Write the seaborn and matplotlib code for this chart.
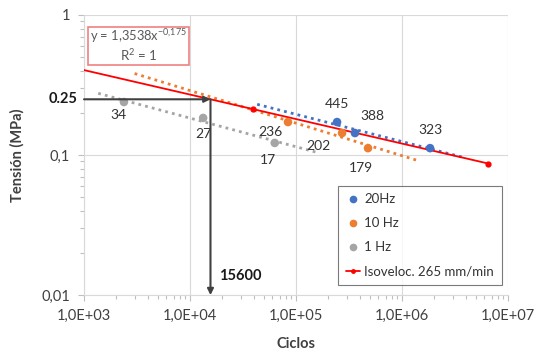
import numpy as np
import pandas as pd
import matplotlib
matplotlib.use("Agg")
import matplotlib.pyplot as plt
import matplotlib.ticker as mticker
from matplotlib.lines import Line2D
from matplotlib.patches import Rectangle
import seaborn as sns

# Fatigue tests: cycles to failure and stress per loading frequency
cycles_20hz = [2.44e5, 3.60e5, 1.84e6]
stress_20hz = [0.172, 0.1436, 0.112]
labels_20hz = ["445", "388", "323"]

cycles_10hz = [8.4e4, 2.72e5, 4.78e5]
stress_10hz = [0.172, 0.1436, 0.112]
labels_10hz = ["236", "202", "179"]

cycles_1hz = [2.38e3, 1.33e4, 6.3e4]
stress_1hz = [0.239, 0.184, 0.122]
labels_1hz = ["34", "27", "17"]

# Iso-velocity curve y = 1,3538 x^-0,175
iso_cycles = [1.0e3, 3.9e4, 6.5e6]
iso_stress = [0.404, 0.213, 0.087]

# Reference reading on the iso-velocity curve
ref_stress = 0.25
ref_cycles = 15600

series_names = ["20Hz", "10 Hz", "1 Hz"]
colors = {"20Hz": "#4472C4", "10 Hz": "#ED7D31", "1 Hz": "#A5A5A5"}
trend_ranges = {"20Hz": (4.3e4, 3.7e6), "10 Hz": (3.0e3, 1.42e6), "1 Hz": (1.36e3, 1.61e5)}

df = pd.DataFrame({
    "Ciclos": cycles_20hz + cycles_10hz + cycles_1hz,
    "Tension": stress_20hz + stress_10hz + stress_1hz,
    "Serie": ["20Hz"] * 3 + ["10 Hz"] * 3 + ["1 Hz"] * 3,
    "Etiqueta": labels_20hz + labels_10hz + labels_1hz,
})

sns.set_theme(style="white")
plt.rcParams["font.family"] = ["Lato", "DejaVu Sans"]
plt.rcParams["mathtext.fontset"] = "custom"
plt.rcParams["mathtext.rm"] = "Lato"
plt.rcParams["mathtext.default"] = "regular"

fig = plt.figure(figsize=(5.4, 3.56), dpi=100)
ax = fig.add_axes([0.1556, 0.171, 0.7851, 0.787])
ax.set_xscale("log")
ax.set_yscale("log")
ax.set_xlim(1e3, 1e7)
ax.set_ylim(0.01, 1)

# Power-law trend lines fitted to each frequency series
for name in series_names:
    sub = df[df["Serie"] == name]
    b, a = np.polyfit(np.log10(sub["Ciclos"]), np.log10(sub["Tension"]), 1)
    lo, hi = trend_ranges[name]
    xs = np.logspace(np.log10(lo), np.log10(hi), 50)
    ax.plot(xs, 10 ** a * xs ** b, ls=(0, (1, 1.5)), lw=2.0, color=colors[name], zorder=2)

ax.plot(iso_cycles, iso_stress, color="#FF0000", lw=1.3, marker="o", ms=3.5,
        markevery=[1, 2], zorder=3)

sns.scatterplot(data=df, x="Ciclos", y="Tension", hue="Serie", palette=colors,
                s=38, edgecolor="none", ax=ax, legend=False, zorder=4)

# Value labels next to each point
offsets = {
    "445": (0, 9, "center", "bottom"), "388": (4, 8, "left", "bottom"),
    "323": (0, 9, "center", "bottom"),
    "236": (-4, -3, "right", "top"), "202": (-8, -5, "right", "top"),
    "179": (-5, -10, "center", "top"),
    "34": (-4, -5, "center", "top"), "27": (0, -7, "center", "top"),
    "17": (-5, -8, "center", "top"),
}
for _, r in df.iterrows():
    dx, dy, ha, va = offsets[r["Etiqueta"]]
    ax.annotate(r["Etiqueta"], (r["Ciclos"], r["Tension"]), xytext=(dx, dy),
                textcoords="offset points", ha=ha, va=va, fontsize=10,
                color="#333333", zorder=5)

# Reading arrows: 0.25 MPa -> 15600 cycles
ax.annotate("", xy=(ref_cycles, ref_stress), xytext=(1e3, ref_stress),
            arrowprops=dict(arrowstyle="-|>", color="#404040", lw=1.5,
                            mutation_scale=9, shrinkA=0, shrinkB=0), zorder=6)
ax.annotate("", xy=(ref_cycles, 0.01), xytext=(ref_cycles, ref_stress),
            arrowprops=dict(arrowstyle="-|>", color="#404040", lw=1.5,
                            mutation_scale=9, shrinkA=0, shrinkB=0), zorder=6)
ax.text(-0.015, ref_stress, "0.25", transform=ax.get_yaxis_transform(),
        ha="right", va="center", fontsize=10.5, fontweight="bold", color="#1a1a1a")
ax.annotate(str(ref_cycles), (ref_cycles, 0.01), xytext=(6, 9),
            textcoords="offset points", ha="left", va="bottom",
            fontsize=10.5, fontweight="bold", color="#1a1a1a")

# Trend equation box
ax.add_patch(Rectangle((0.009, 0.821), 0.239, 0.136, transform=ax.transAxes,
                       fc="white", ec="#F08080", lw=1.2, zorder=7))
ax.text(0.129, 0.925, "y = 1,3538x$^{-0{,}175}$", transform=ax.transAxes,
        ha="center", va="center", fontsize=9.3, color="#595959", zorder=8)
ax.text(0.129, 0.858, "R$^{2}$ = 1", transform=ax.transAxes,
        ha="center", va="center", fontsize=9.5, color="#595959", zorder=8)

# Axes styling
ax.grid(True, which="major", color="#D9D9D9", lw=0.8)
for side in ["top", "right"]:
    ax.spines[side].set_visible(False)
for side in ["left", "bottom"]:
    ax.spines[side].set_color("#D9D9D9")
    ax.spines[side].set_linewidth(0.8)

ax.xaxis.set_major_locator(mticker.LogLocator(base=10, numticks=10))
ax.xaxis.set_minor_locator(mticker.LogLocator(base=10, subs=np.arange(2, 10), numticks=20))
ax.yaxis.set_major_locator(mticker.LogLocator(base=10, numticks=10))
ax.yaxis.set_minor_locator(mticker.LogLocator(base=10, subs=np.arange(2, 10), numticks=20))
ax.xaxis.set_major_formatter(mticker.FuncFormatter(
    lambda v, p: "1,0E+{:02d}".format(int(round(np.log10(v))))))
ax.yaxis.set_major_formatter(mticker.FuncFormatter(
    lambda v, p: {1.0: "1", 0.1: "0,1", 0.01: "0,01"}.get(round(v, 4), "")))
ax.yaxis.set_minor_formatter(mticker.NullFormatter())
ax.xaxis.set_minor_formatter(mticker.NullFormatter())
ax.tick_params(axis="both", which="major", length=4, width=0.8, color="#BFBFBF",
               labelsize=10.5, labelcolor="#404040", pad=6, direction="out",
               bottom=True, left=True)
ax.tick_params(axis="both", which="minor", length=3, width=0.8, color="#BFBFBF",
               direction="out", bottom=True, left=True)

ax.set_xlabel("Ciclos", fontsize=10.5, fontweight="bold", color="#404040", labelpad=10)
ax.set_ylabel("Tensión (MPa)", fontsize=10.5, fontweight="bold", color="#404040", labelpad=12)

handles = [Line2D([], [], ls="none", marker="o", ms=4.5, color=colors[n]) for n in series_names]
handles.append(Line2D([], [], color="#FF0000", lw=1.3, marker="o", ms=2.5))
leg = ax.legend(handles, series_names + ["Isoveloc. 265 mm/min"], loc="lower right",
                bbox_to_anchor=(0.986, 0.036), borderaxespad=0, fontsize=9.5,
                frameon=True, fancybox=False, handlelength=1.1, handletextpad=0.3,
                labelspacing=0.9, borderpad=0.6)
leg.get_frame().set_edgecolor("#595959")
leg.get_frame().set_linewidth(0.8)
for t in leg.get_texts():
    t.set_color("#333333")

fig.savefig("out.png", dpi=100)
